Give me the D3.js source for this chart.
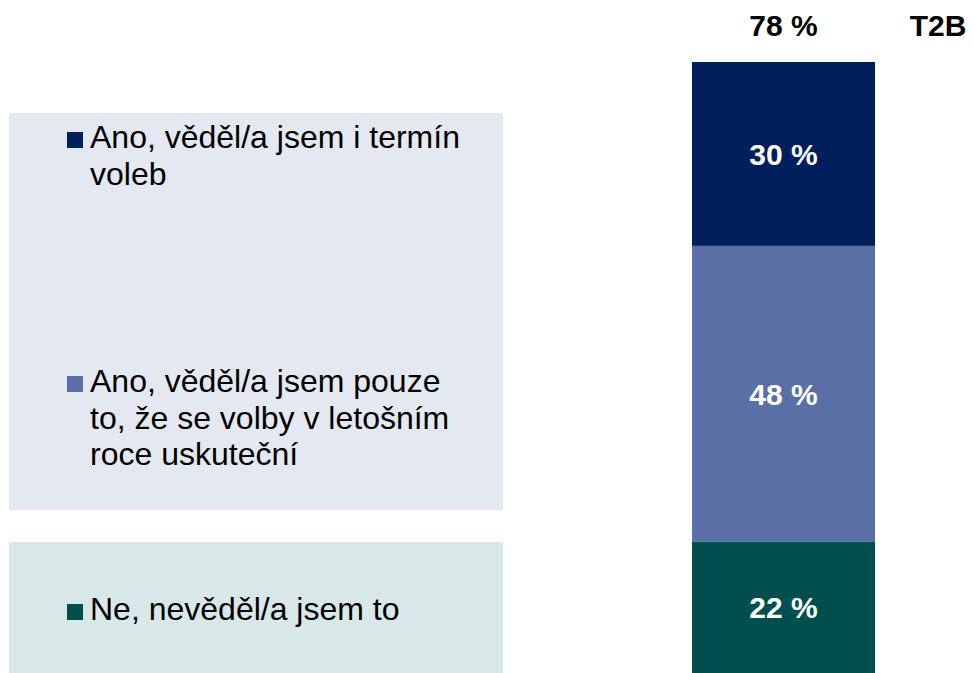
<!DOCTYPE html>
<html lang="cs">
  <head>
    <meta charset="UTF-8" />
    <title>T2B</title>
    <script src="https://d3js.org/d3.v7.min.js"></script>
    <style>
      body { margin: 0; background: #fff; }
      text { font-family: "Liberation Sans", Arial, sans-serif; }
    </style>
  </head>
  <body>
    <svg width="974" height="673"></svg>
    <script>
      // Data
      const categories = [
        "Ano, věděl/a jsem i termín voleb",
        "Ano, věděl/a jsem pouze to, že se volby v letošním roce uskuteční",
        "Ne, nevěděl/a jsem to",
      ];
      const legendLines = [
        ["Ano, věděl/a jsem i termín", "voleb"],
        ["Ano, věděl/a jsem pouze", "to, že se volby v letošním", "roce uskuteční"],
        ["Ne, nevěděl/a jsem to"],
      ];
      const values = [30.1, 48.4, 21.5];
      const t2bValue = 78;
      const t2bLabel = "T2B";
      const colors = ["#001F5C", "#5A6FA6", "#004F4E"];

      const svg = d3.select("svg");

      // stack
      let acc = 0;
      const stacked = values.map((v, i) => {
        const d = { key: categories[i], v, y0: acc, y1: acc + v, color: colors[i], lines: legendLines[i] };
        acc += v;
        return d;
      });

      const y = d3.scaleLinear().domain([0, 100]).range([62, 673]);
      const barX = 692, barW = 183;
      const cx = barX + barW / 2;

      // background panels behind the legend
      const panels = [
        { y0: 113, y1: 510, fill: "#E4E8F1" },
        { y0: 542, y1: 673, fill: "#D8E8E8" },
      ];
      svg.selectAll("rect.panel")
        .data(panels)
        .enter()
        .append("rect")
        .attr("class", "panel")
        .attr("x", 9)
        .attr("width", 494)
        .attr("y", (d) => d.y0)
        .attr("height", (d) => d.y1 - d.y0)
        .style("fill", (d) => d.fill);

      // bar segments
      svg.selectAll("rect.seg")
        .data(stacked)
        .enter()
        .append("rect")
        .attr("class", "seg")
        .attr("x", barX)
        .attr("width", barW)
        .attr("y", (d) => y(d.y0))
        .attr("height", (d) => y(d.y1) - y(d.y0))
        .style("fill", (d) => d.color);

      // value labels
      svg.selectAll("text.val")
        .data(stacked)
        .enter()
        .append("text")
        .attr("class", "val")
        .attr("x", cx)
        .attr("y", (d) => (y(d.y0) + y(d.y1)) / 2 + 11)
        .attr("text-anchor", "middle")
        .style("font-size", "30px")
        .style("font-weight", "bold")
        .style("fill", "#fff")
        .text((d) => Math.round(d.v) + " %");

      // header
      svg.append("text")
        .attr("x", cx)
        .attr("y", 36)
        .attr("text-anchor", "middle")
        .style("font-size", "30px")
        .style("font-weight", "bold")
        .text(t2bValue + " %");
      svg.append("text")
        .attr("x", 938)
        .attr("y", 36)
        .attr("text-anchor", "middle")
        .style("font-size", "30px")
        .style("font-weight", "bold")
        .text(t2bLabel);

      // legend
      const firstBaseline = [148, 392, 620];
      const lineH = 36.7;
      const leg = svg.selectAll("g.leg")
        .data(stacked)
        .enter()
        .append("g")
        .attr("class", "leg")
        .attr("transform", (d, i) => `translate(0,${firstBaseline[i]})`);

      leg.append("rect")
        .attr("x", 67)
        .attr("y", -16)
        .attr("width", 16)
        .attr("height", 16)
        .style("fill", (d) => d.color);

      leg.append("text")
        .style("font-size", "32px")
        .style("fill", "#000")
        .selectAll("tspan")
        .data((d) => d.lines)
        .enter()
        .append("tspan")
        .attr("x", 90)
        .attr("y", (d, j) => j * lineH)
        .text((d) => d);
    </script>
  </body>
</html>
